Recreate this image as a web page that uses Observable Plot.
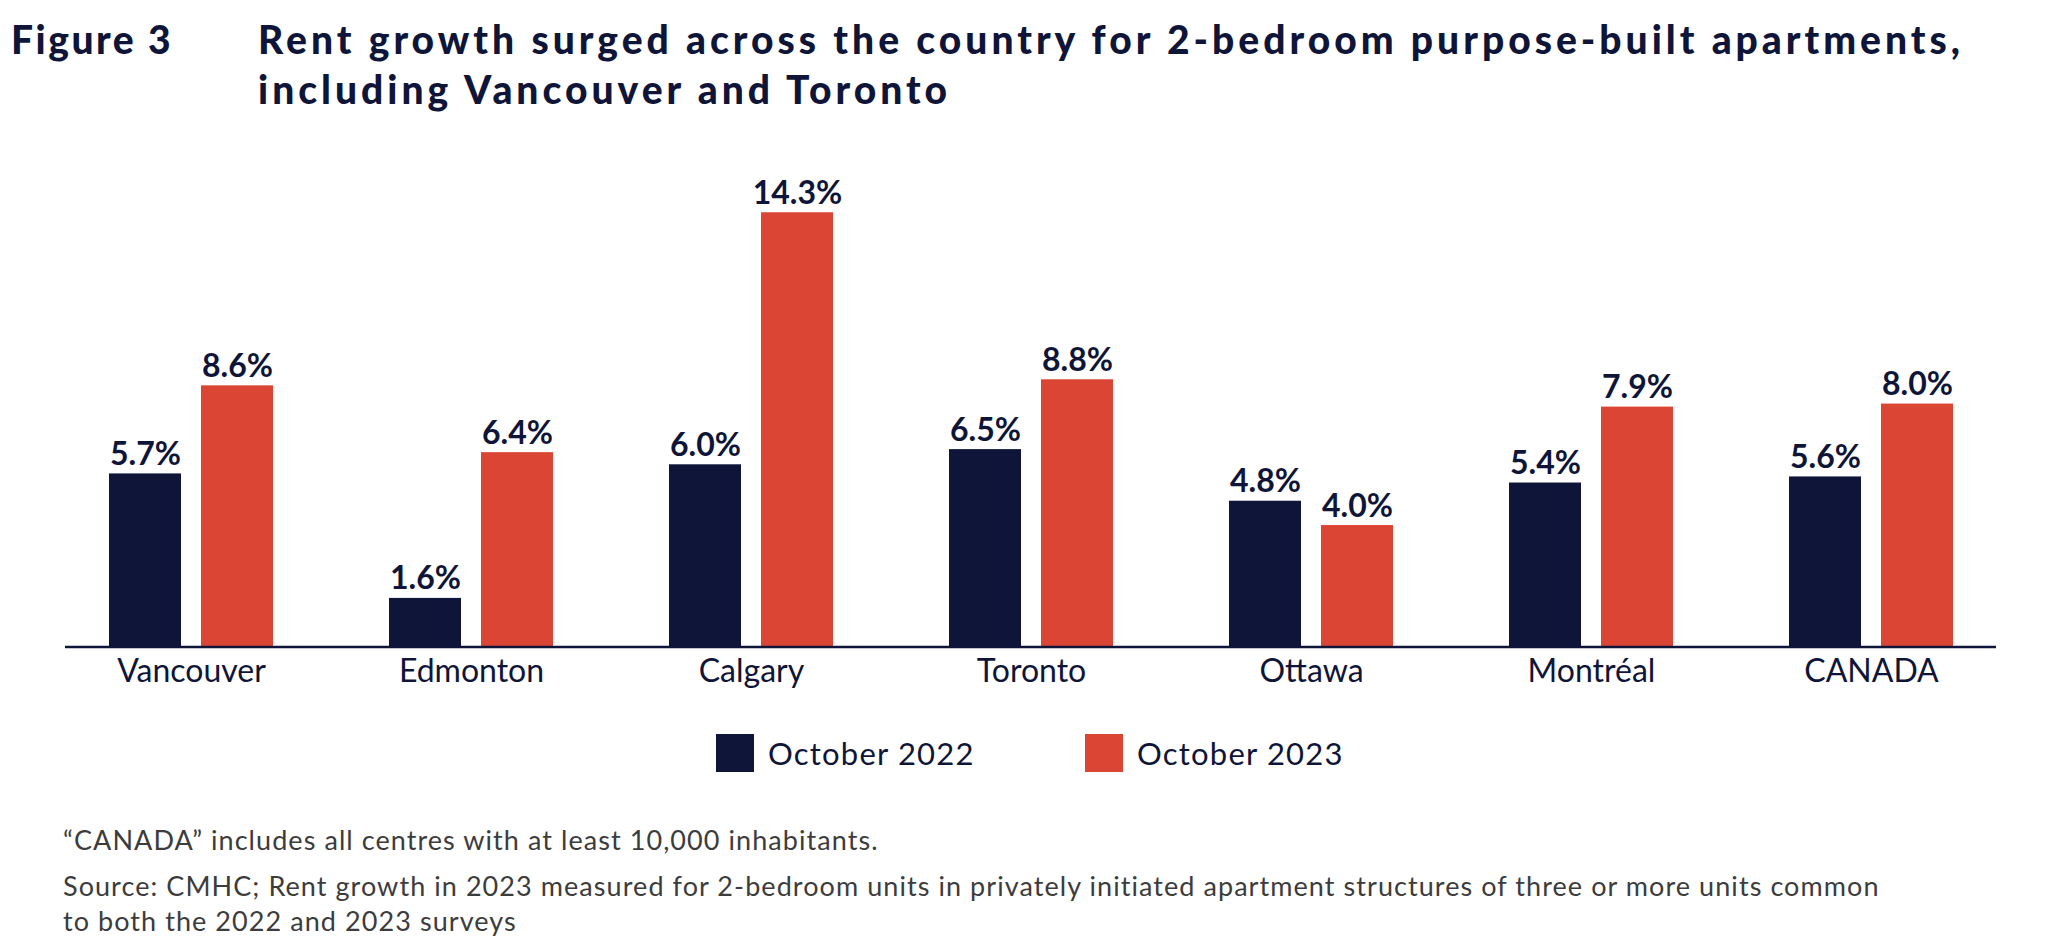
<!DOCTYPE html>
<html>
<head>
<meta charset="utf-8">
<script src="https://cdn.jsdelivr.net/npm/d3@7"></script>
<script src="https://cdn.jsdelivr.net/npm/@observablehq/plot@0.6"></script>
<style>
  html, body { margin: 0; padding: 0; background: #fff; }
  body { width: 2048px; height: 949px; position: relative; overflow: hidden; font-family: Lato, "Noto Sans", sans-serif; color: #0f1538; }
  .t { position: absolute; font-weight: 900; font-size: 39px; line-height: 50px; white-space: nowrap; }
  .t span { display: inline-block; }
  #chart { position: absolute; left: 0; top: 140px; }
  .leg { position: absolute; top: 734px; display: flex; align-items: center; font-size: 31px; letter-spacing: 1.2px; white-space: nowrap; }
  .leg span.sw { display: inline-block; width: 38px; height: 38px; margin-right: 14px; }
  .foot { position: absolute; left: 63px; font-size: 27px; color: #3c3c3c; white-space: nowrap; line-height: 35px; }
  .foot span { display: inline-block; }
</style>
</head>
<body>
<div class="t" style="left:11px; top:14px;"><span id="fig">Figure 3</span></div>
<div class="t" style="left:258px; top:14px;"><span id="t1"></span><br><span id="t2"></span></div>
<div id="chart"></div>
<div id="legend"></div>
<div class="foot" style="top:822px;"><span id="f1"></span></div>
<div class="foot" style="top:868px;"><span id="f2"></span><br><span id="f3"></span></div>
<script>
const cities = ["Vancouver", "Edmonton", "Calgary", "Toronto", "Ottawa", "Montréal", "CANADA"];
const years = ["October 2022", "October 2023"];
const oct2022 = [5.7, 1.6, 6.0, 6.5, 4.8, 5.4, 5.6];
const oct2023 = [8.6, 6.4, 14.3, 8.8, 4.0, 7.9, 8.0];
const colors = ["#0e1539", "#db4534"];
const titleLines = ["Rent growth surged across the country for 2-bedroom purpose-built apartments,", "including Vancouver and Toronto"];
const note1 = "\u201cCANADA\u201d includes all centres with at least 10,000 inhabitants.";
const note2 = ["Source: CMHC; Rent growth in 2023 measured for 2-bedroom units in privately initiated apartment structures of three or more units common", "to both the 2022 and 2023 surveys"];

const navy = "#0f1538";
const data = cities.flatMap((c, i) => [
  {city: c, year: years[0], value: oct2022[i]},
  {city: c, year: years[1], value: oct2023[i]}
]);

const chart = Plot.plot({
  width: 2048,
  height: 560,
  marginTop: 51,
  marginBottom: 53.5,
  marginLeft: 50,
  marginRight: 37,
  style: {fontFamily: "Lato, 'Noto Sans', sans-serif", background: "#fff"},
  fx: {domain: cities, padding: 0, label: null, axis: null},
  x: {domain: years, paddingInner: 0.217, paddingOuter: 0.63, axis: null},
  y: {domain: [0, 15], axis: null},
  color: {domain: years, range: colors},
  marks: [
    Plot.barY(data, {fx: "city", x: "year", y: "value", fill: "year"}),
    Plot.text(data, {fx: "city", x: "year", y: "value", text: d => d.value.toFixed(1) + "%", dy: -9, lineAnchor: "bottom", fontWeight: "bold", fontSize: 32, fill: navy}),
    Plot.ruleY([{city: cities[0]}], {fx: "city", y: () => 0, stroke: navy, strokeWidth: 2.5, insetLeft: 14}),
    Plot.ruleY(cities.slice(1, -1).map(c => ({city: c})), {fx: "city", y: () => 0, stroke: navy, strokeWidth: 2.5}),
    Plot.ruleY([{city: cities[cities.length - 1]}], {fx: "city", y: () => 0, stroke: navy, strokeWidth: 2.5, insetRight: 15}),
    Plot.axisFx({anchor: "bottom", tickSize: 0, tickPadding: 12, fontSize: 32, label: null, fill: navy})
  ]
});
document.getElementById("chart").appendChild(chart);

const legend = document.getElementById("legend");
const legLeft = [716, 1085];
years.forEach((y, i) => {
  const d = document.createElement("div");
  d.className = "leg";
  d.style.left = legLeft[i] + "px";
  d.innerHTML = `<span class="sw" style="background:${colors[i]}"></span><span>${y}</span>`;
  legend.appendChild(d);
});

document.getElementById("t1").textContent = titleLines[0];
document.getElementById("t2").textContent = titleLines[1];
document.getElementById("f1").textContent = note1;
document.getElementById("f2").textContent = note2[0];
document.getElementById("f3").textContent = note2[1];

// stretch text with letter-spacing to match the reference's wider typeface
function spacingFor(el, target) {
  const w = el.getBoundingClientRect().width;
  return (target - w) / el.textContent.length;
}
const figEl = document.getElementById("fig");
figEl.style.letterSpacing = spacingFor(figEl, 162) + "px";
const ts = spacingFor(document.getElementById("t1"), 1706);
["t1", "t2"].forEach(id => document.getElementById(id).style.letterSpacing = ts + "px");
const fs = spacingFor(document.getElementById("f2"), 1817);
["f1", "f2", "f3"].forEach(id => document.getElementById(id).style.letterSpacing = fs + "px");
</script>
</body>
</html>
